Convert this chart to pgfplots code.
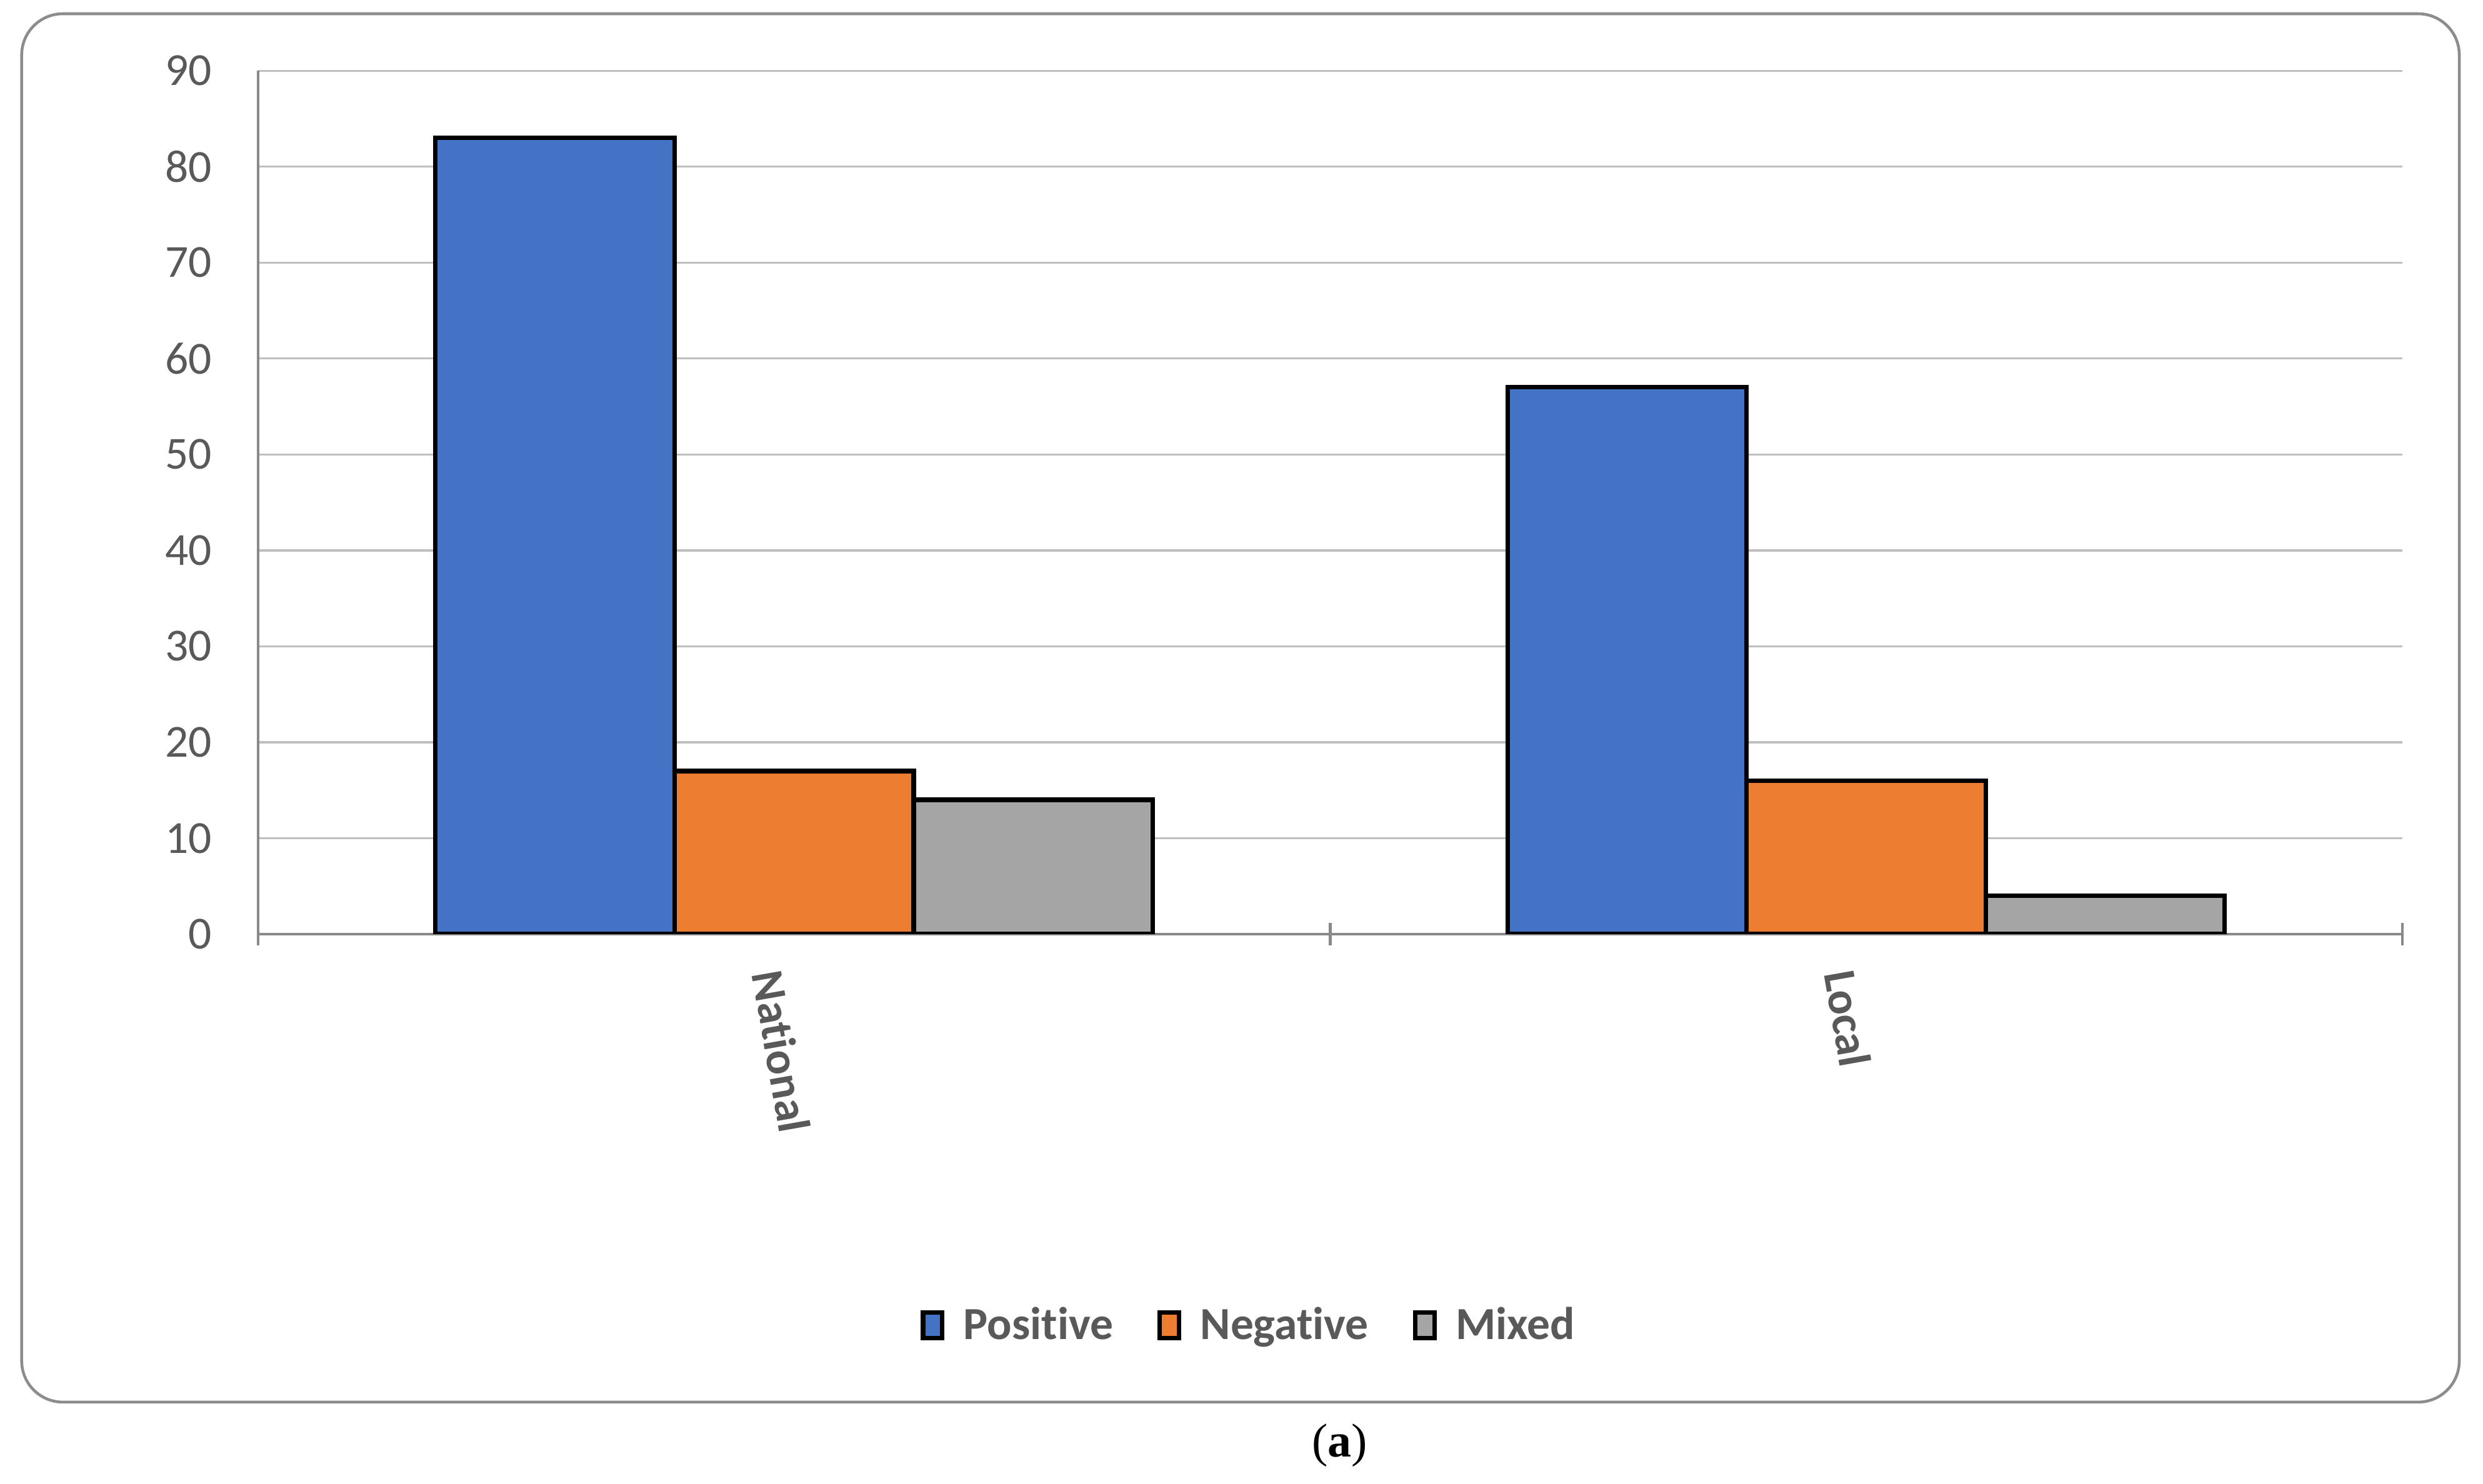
\documentclass[border=0pt]{standalone}
\usepackage{pgfplots}
\pgfplotsset{compat=1.18}
\usepackage{fontspec}
\setmainfont{Carlito}[Ligatures=NoCommon]
\newfontfamily\seriffont{Liberation Serif}
\definecolor{cblue}{HTML}{4472C4}
\definecolor{corange}{HTML}{ED7D31}
\definecolor{cgray}{HTML}{A5A5A5}
\definecolor{txtgray}{HTML}{595959}
\definecolor{gridgray}{HTML}{BFBFBF}
\definecolor{axgray}{HTML}{898989}
\definecolor{boxgray}{HTML}{8C8C8C}
\pgfplotsset{mylegend/.style={legend image code/.code={\draw[##1,draw=black,line width=1.4pt] (0.7pt,-4.05pt) rectangle (6.8pt,4.05pt);}}}
\begin{document}
\begin{tikzpicture}
\useasboundingbox (0,0) rectangle (784pt,468.5pt);
\draw[boxgray, line width=0.9pt, rounded corners=13pt] (6.85pt,25.7pt) rectangle (776.5pt,464.15pt);
\begin{axis}[
  at={(81.5pt,173.5pt)}, anchor=south west,
  scale only axis, width=677pt, height=272.65pt,
  ybar=0pt, bar width=0.223,
  xmin=-0.5, xmax=1.5, ymin=0, ymax=90,
  ytick={0,10,...,90},
  xtick={0,1}, xticklabels={National,Local},
  major tick length=0pt,
  extra x ticks={-0.5,0.5,1.5}, extra x tick labels={},
  extra x tick style={major tick length=7pt, tick align=center, major tick style={axgray, line width=0.9pt}},
  axis x line=bottom, axis y line=left,
  x axis line style={axgray, line width=0.9pt, -},
  y axis line style={axgray, line width=0.7pt, -},
  ymajorgrids, grid style={gridgray, line width=0.65pt},
  /pgf/number format/assume math mode=true,
  tick label style={font=\fontsize{14.5}{16}\selectfont, text=txtgray},
  yticklabel style={anchor=east, inner sep=0pt, xshift=-14.5pt},
  xticklabel style={font=\bfseries\fontsize{14.5}{16}\selectfont, inner sep=0pt, xshift=-8.5pt, yshift=-11.5pt, rotate=-80, anchor=west},
  legend style={draw=none, fill=none, at={(axis description cs:0.4616,-0.4532)}, anchor=center, legend columns=3,
    font=\bfseries\fontsize{14.5}{16}\selectfont, text=txtgray,
    /tikz/every odd column/.append style={column sep=6pt},
    /tikz/every even column/.append style={column sep=14pt},
    nodes={inner sep=0pt}},
]
\addplot[fill=cblue, draw=black, line width=1.4pt, mylegend] coordinates {(0,83) (1,57)};
\addplot[fill=corange, draw=black, line width=1.4pt, mylegend] coordinates {(0,17) (1,16)};
\addplot[fill=cgray, draw=black, line width=1.4pt, mylegend] coordinates {(0,14) (1,4)};
\legend{Positive,Negative,Mixed}
\end{axis}
\node[font=\seriffont\fontsize{15}{18}\selectfont] at (423pt,12pt) {(\textbf{a})};
\end{tikzpicture}
\end{document}
